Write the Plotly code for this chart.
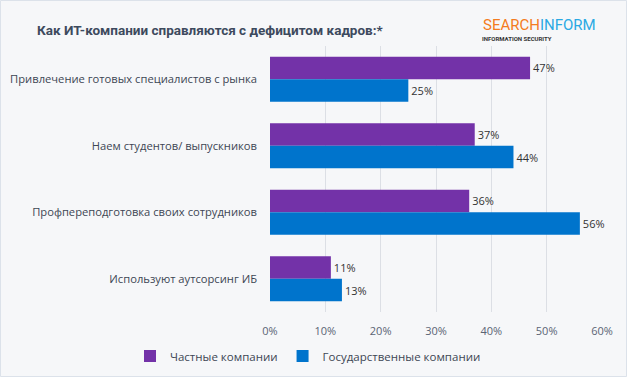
import plotly.graph_objects as go

categories = [
    "Привлечение готовых специалистов с рынка",
    "Наем студентов/ выпускников",
    "Профпереподготовка своих сотрудников",
    "Используют аутсорсинг ИБ",
]
private_vals = [47, 37, 36, 11]
state_vals = [25, 44, 56, 13]
series_names = ["Частные компании", "Государственные компании"]
tick_vals = [0, 10, 20, 30, 40, 50, 60]
tick_text = ["0%", "10%", "20%", "30%", "40%", "50%", "60%"]

font_family = "Open Sans, Noto Sans, sans-serif"
text_col = "#3D4654"

W, H = 627, 377
L, R, T, B = 270, 25, 46, 65
PW, PH = W - L - R, H - T - B


def px_x(px):
    return (px - L) / PW


def px_y(py):
    return (H - B - py) / PH


fig = go.Figure()
fig.add_trace(go.Bar(
    y=categories, x=private_vals, orientation="h", name=series_names[0],
    marker=dict(color="#7332A8", line=dict(width=0)),
    text=[f"{v}%" for v in private_vals], textposition="outside",
    textfont=dict(size=11, color="#333333", family=font_family),
    cliponaxis=False,
))
fig.add_trace(go.Bar(
    y=categories, x=state_vals, orientation="h", name=series_names[1],
    marker=dict(color="#0074CC", line=dict(width=0)),
    text=[f"{v}%" for v in state_vals], textposition="outside",
    textfont=dict(size=11, color="#333333", family=font_family),
    cliponaxis=False,
))

fig.update_layout(
    width=W, height=H,
    paper_bgcolor="#F6F7F9", plot_bgcolor="rgba(0,0,0,0)",
    margin=dict(l=L, r=R, t=T, b=B, autoexpand=False),
    barmode="group", bargap=0.32, bargroupgap=0,
    font=dict(family=font_family, size=11, color=text_col),
    showlegend=True,
    legend=dict(orientation="h", xref="paper", x=px_x(130), xanchor="left",
                yref="paper", y=px_y(356), yanchor="middle",
                font=dict(size=11.5, color=text_col), itemwidth=30,
                bgcolor="rgba(0,0,0,0)", traceorder="normal"),
    xaxis=dict(range=[0, 60], tickvals=tick_vals, ticktext=tick_text,
               showgrid=True, gridcolor="#DCDFE5", gridwidth=1, zeroline=False,
               showline=False, ticks="", tickfont=dict(size=11, color="#5A6474"),
               ticklabelstandoff=11, fixedrange=True, automargin=False),
    yaxis=dict(autorange="reversed", showgrid=False, ticks="",
               tickfont=dict(size=11.2, color=text_col), ticklabelstandoff=12,
               showline=False, fixedrange=True, automargin=False),
)

# thin frame around the image
fig.add_shape(type="rect", xref="paper", yref="paper",
              x0=px_x(0.5), x1=px_x(W - 0.5), y0=px_y(H - 0.5), y1=px_y(0.5),
              line=dict(color="#DCE2EA", width=1), fillcolor="rgba(0,0,0,0)", layer="below")

fig.add_annotation(text="<b>Как ИТ-компании справляются с дефицитом кадров:*</b>",
                   xref="paper", yref="paper", x=px_x(35), y=px_y(30), xanchor="left", yanchor="middle",
                   showarrow=False,
                   font=dict(size=13.5, color="#3D4A5E", family="Roboto, sans-serif"))
fig.add_annotation(text="<span style='color:#F47B20'>SEARCH</span><span style='color:#2AA9E3'>INFORM</span>",
                   xref="paper", yref="paper", x=px_x(598), y=px_y(25), xanchor="right", yanchor="middle",
                   showarrow=False, font=dict(size=15, family="Roboto, sans-serif"))
fig.add_annotation(text="<b>INFORMATION SECURITY</b>",
                   xref="paper", yref="paper", x=px_x(480), y=px_y(38), xanchor="left", yanchor="middle",
                   showarrow=False, font=dict(size=6, color="#333", family="Roboto, sans-serif"))

fig.write_html("out.html", config={"displayModeBar": False},
               post_script="document.body.style.margin='0';")
